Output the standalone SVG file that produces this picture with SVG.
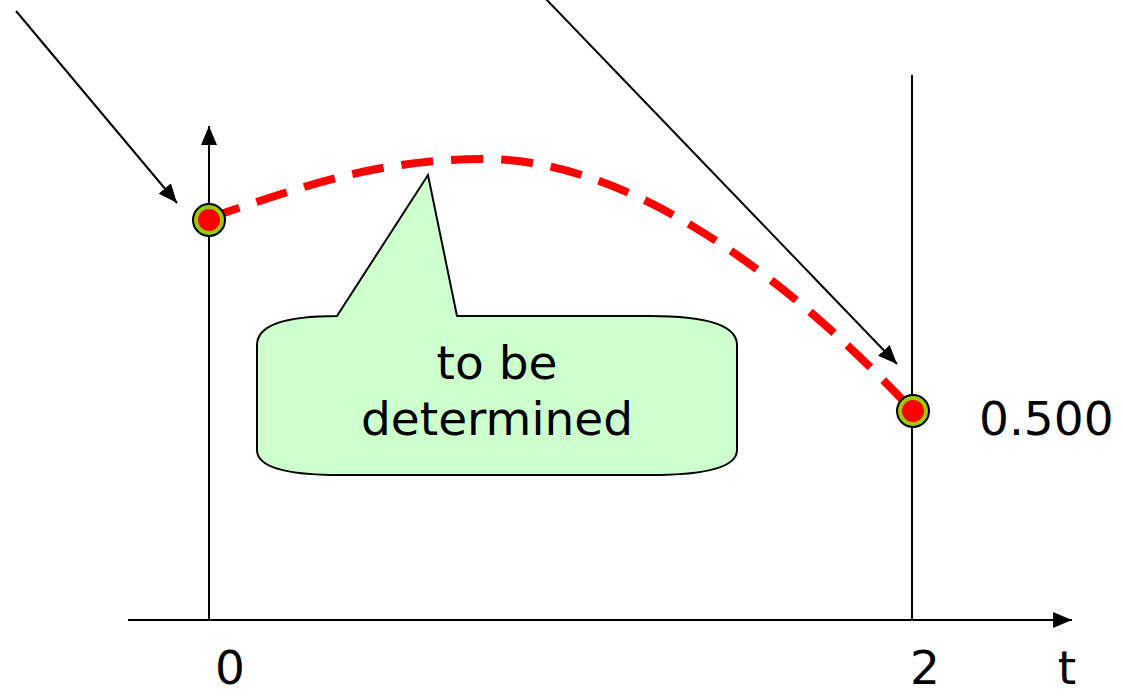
<svg xmlns="http://www.w3.org/2000/svg" width="1123" height="696" viewBox="0 0 1123 696">
<style>
.ln{stroke:#000;stroke-width:2;fill:none}
.lbl{font-family:"DejaVu Sans",Verdana,sans-serif;font-size:47px;fill:#000}
.pt-o{fill:#99cc00;stroke:#000;stroke-width:2}
.pt-i{fill:#ff0000}
</style>
<defs>
<marker id="ah" markerUnits="userSpaceOnUse" markerWidth="20" markerHeight="16" refX="19" refY="8" orient="auto">
<path d="M0,0 L19,8 L0,16 z" fill="#000"/>
</marker>
</defs>
<rect width="1123" height="696" fill="#fff"/>
<g id="axes">
<line class="ln" x1="128" y1="620" x2="1072" y2="620" marker-end="url(#ah)"/>
<line class="ln" x1="209" y1="620" x2="209" y2="126" marker-end="url(#ah)"/>
<line class="ln" x1="912" y1="620" x2="912" y2="75"/>
</g>
<g id="connectors">
<line class="ln" x1="16" y1="11" x2="177" y2="203" marker-end="url(#ah)"/>
<line class="ln" x1="545" y1="-2" x2="897" y2="364" marker-end="url(#ah)"/>
<path d="M209,218 C299,188 375,159 485,159 C640,160 800,290 913,411" fill="none" stroke="#ff0000" stroke-width="8" stroke-dasharray="32,18"/>
</g>
<g id="callout">
<path d="M337,316 L428,175 L457,316 L650,316 Q737,316 737,345 L737,450 Q737,475 650,475 L340,475 Q257,475 257,450 L257,345 Q257,316 337,316 Z" fill="#ccffcc" stroke="#000" stroke-width="2"/>
<text class="lbl" x="497" y="379" text-anchor="middle">to be</text>
<text class="lbl" x="497" y="435" text-anchor="middle">determined</text>
</g>
<g id="point-start">
<circle class="pt-o" cx="209" cy="220" r="16"/>
<circle class="pt-i" cx="209" cy="220" r="11"/>
</g>
<g id="point-end">
<circle class="pt-o" cx="913" cy="411" r="16"/>
<circle class="pt-i" cx="913" cy="411" r="11"/>
</g>
<g id="labels">
<text class="lbl" x="979" y="435">0.500</text>
<text class="lbl" x="230" y="684" text-anchor="middle">0</text>
<text class="lbl" x="925" y="684" text-anchor="middle">2</text>
<text class="lbl" x="1067" y="684" text-anchor="middle">t</text>
</g>
</svg>
